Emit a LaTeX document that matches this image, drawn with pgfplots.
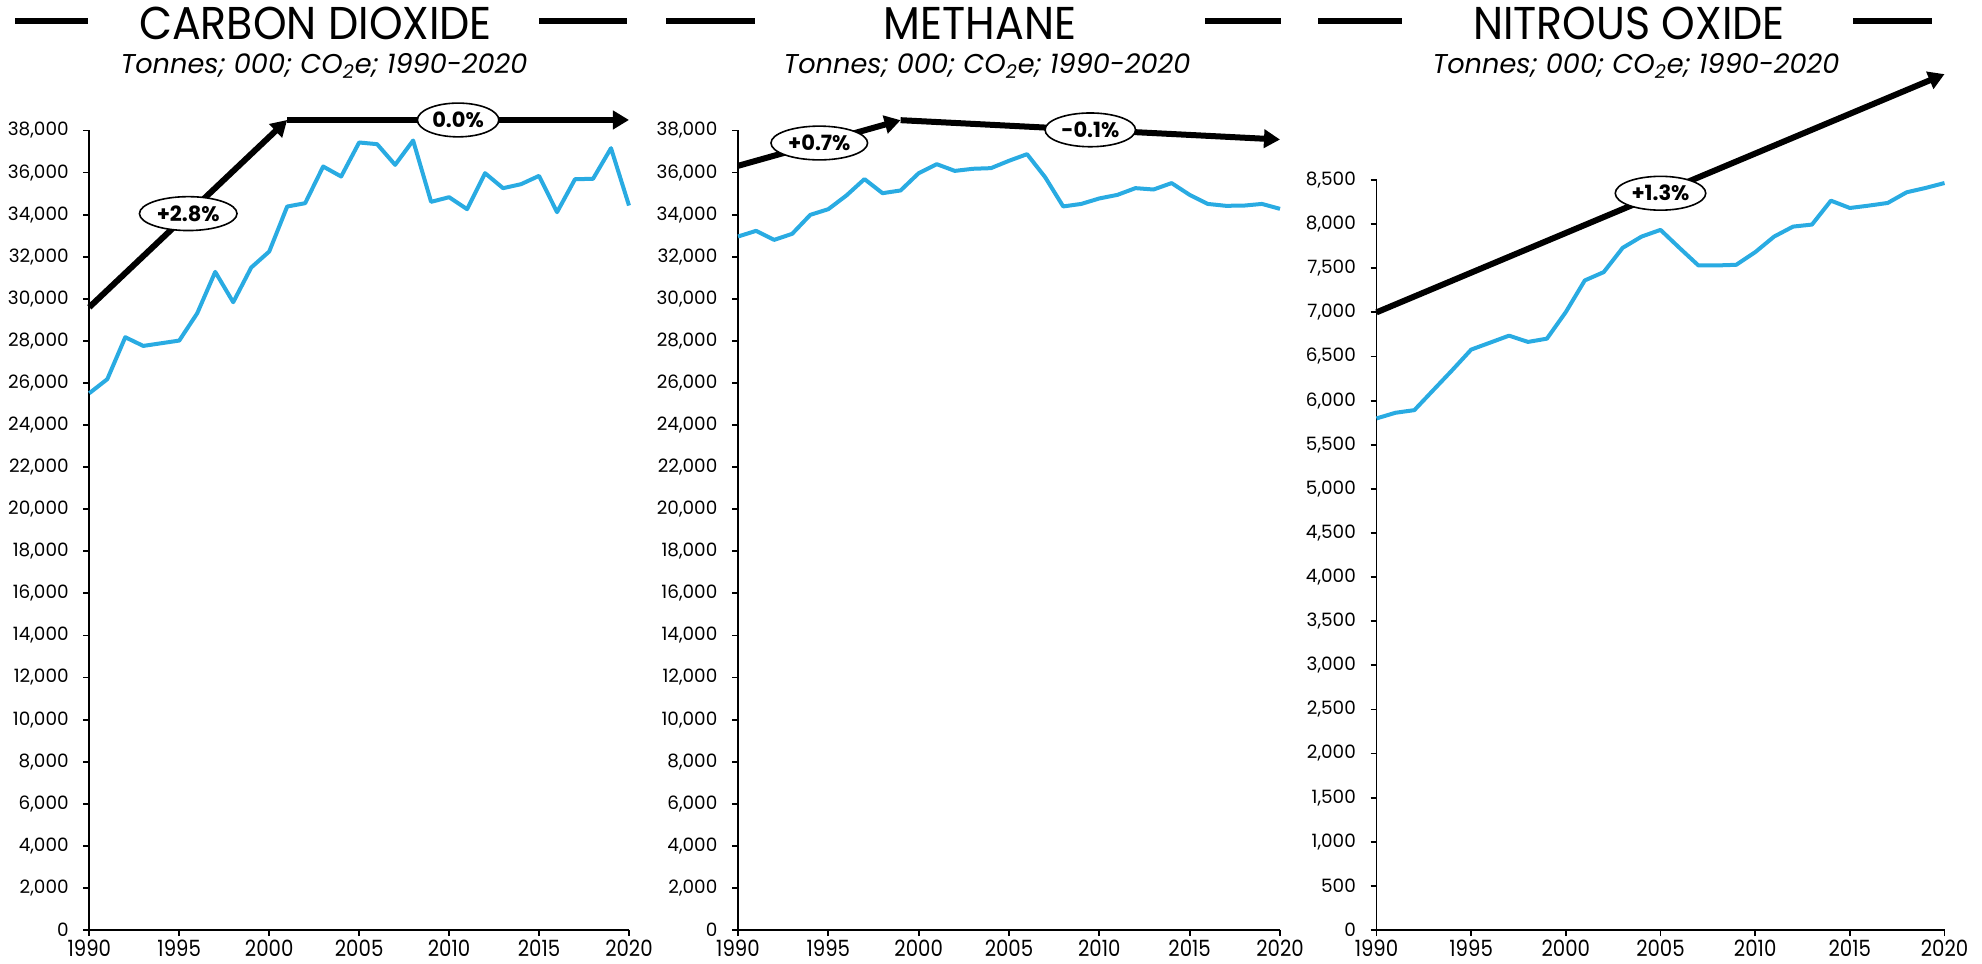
\documentclass[border=0pt]{standalone}
\usepackage{fontspec}
\setmainfont{Poppins}
\newfontfamily\titlefont[FakeStretch=0.93]{Poppins}
\newfontfamily\xfont[FakeStretch=0.88]{Poppins}
\usepackage{pgfplots}
\usepackage{pgfplotstable}
\pgfplotsset{compat=1.18}
\usetikzlibrary{arrows.meta,shapes.geometric}
\definecolor{lineblue}{RGB}{41,171,226}

\pgfplotstableread{
year co2
1990 25512
1991 26180
1992 28174
1993 27761
1994 27888
1995 28015
1996 29314
1997 31280
1998 29837
1999 31486
2000 32247
2001 34386
2002 34545
2003 36288
2004 35813
2005 37430
2006 37350
2007 36367
2008 37525
2009 34608
2010 34830
2011 34260
2012 35971
2013 35258
2014 35448
2015 35844
2016 34117
2017 35686
2018 35702
2019 37160
2020 34434
}\coii

\pgfplotstableread{
year ch4
1990 32960
1991 33230
1992 32800
1993 33090
1994 33990
1995 34260
1996 34910
1997 35690
1998 35020
1999 35150
2000 35970
2001 36400
2002 36080
2003 36180
2004 36210
2005 36560
2006 36875
2007 35780
2008 34390
2009 34510
2010 34770
2011 34940
2012 35260
2013 35195
2014 35500
2015 34940
2016 34510
2017 34420
2018 34430
2019 34510
2020 34275
}\chiv

\pgfplotstableread{
year n2o
1990 5798
1991 5862
1992 5892
1993 6119
1994 6345
1995 6578
1996 6657
1997 6736
1998 6665
1999 6702
2000 7004
2001 7362
2002 7456
2003 7731
2004 7859
2005 7935
2006 7731
2007 7532
2008 7532
2009 7539
2010 7682
2011 7859
2012 7972
2013 7995
2014 8266
2015 8183
2016 8210
2017 8240
2018 8361
2019 8410
2020 8466
}\nio

\tikzset{
  lbl/.style={ellipse, draw=black, line width=0.8pt, fill=white, inner xsep=1.5pt, inner ysep=2pt, font=\bfseries\fontsize{10.5}{11}\selectfont, text=black},
}
\pgfplotsset{
  panel/.style={
    scale only axis, anchor=south west,
    axis x line*=bottom, axis y line*=left,
    xmin=1990, xmax=2020, xtick={1990,1995,...,2020},
    ymin=0,
    tick align=outside, major tick length=3pt,
    axis line style={line width=0.9pt},
    every tick/.style={black, line width=0.9pt},
    clip=false,
    scaled y ticks=false,
    /pgf/number format/assume math mode=true,
    yticklabel style={font=\fontsize{9.2}{10}\selectfont, /pgf/number format/1000 sep={,}, xshift=-3.8pt},
    xticklabel style={font=\xfont\fontsize{11.2}{12}\selectfont, /pgf/number format/1000 sep={}, yshift=1.5pt},
  },
  data/.style={lineblue, line width=2pt, line join=round, mark=none},
  trend/.style={black, line width=3pt, -{Triangle[length=8pt,width=9pt]}, mark=none},
}

\begin{document}
\begin{tikzpicture}
\path[use as bounding box] (0,0) rectangle (991pt,482pt);

% title bars
\foreach \a/\b in {7.5/44, 269.5/313.5, 333/377.5, 602.5/640.5, 659/701, 926.5/966}{
  \draw[line width=3pt] (\a pt,471.5pt) -- (\b pt,471.5pt);
}
\node[anchor=base, font=\titlefont\fontsize{23}{26}\selectfont] at (157.75pt,462pt) {CARBON DIOXIDE};
\node[anchor=base, font=\titlefont\fontsize{23}{26}\selectfont] at (490pt,462pt) {METHANE};
\node[anchor=base, font=\titlefont\fontsize{23}{26}\selectfont] at (814.5pt,462pt) {NITROUS OXIDE};
\node[anchor=base, font=\itshape\fontsize{13.6}{16}\selectfont] at (162pt,445pt) {Tonnes; 000; CO\textsubscript{2}e; 1990-2020};
\node[anchor=base, font=\itshape\fontsize{13.6}{16}\selectfont] at (493.5pt,445pt) {Tonnes; 000; CO\textsubscript{2}e; 1990-2020};
\node[anchor=base, font=\itshape\fontsize{13.6}{16}\selectfont] at (818pt,445pt) {Tonnes; 000; CO\textsubscript{2}e; 1990-2020};

\begin{axis}[panel, at={(44.65pt,17pt)}, width=269.85pt, height=399.75pt, ymax=38000, ytick distance=2000]
\addplot[data] table[x=year,y=co2] {\coii};
\addplot[trend] coordinates {(1990,29600) (2001,38500)} node[lbl,pos=0.5] {+2.8\%};
\addplot[trend] coordinates {(2001,38500) (2020,38500)} node[lbl,pos=0.5] {0.0\%};
\end{axis}

\begin{axis}[panel, at={(369pt,17pt)}, width=271pt, height=399.75pt, ymax=38000, ytick distance=2000]
\addplot[data] table[x=year,y=ch4] {\chiv};
\addplot[trend] coordinates {(1990,36320) (1999,38490)} node[lbl,pos=0.5] {+0.7\%};
\addplot[trend] coordinates {(1999,38490) (2020,37570)} node[lbl,pos=0.5] {-0.1\%};
\end{axis}

\begin{axis}[panel, at={(688.25pt,17pt)}, width=284pt, height=375pt, ymax=8500, ytick distance=500]
\addplot[data] table[x=year,y=n2o] {\nio};
\addplot[trend] coordinates {(1990,7000) (2020,9700)} node[lbl,pos=0.5] {+1.3\%};
\end{axis}
\end{tikzpicture}
\end{document}
